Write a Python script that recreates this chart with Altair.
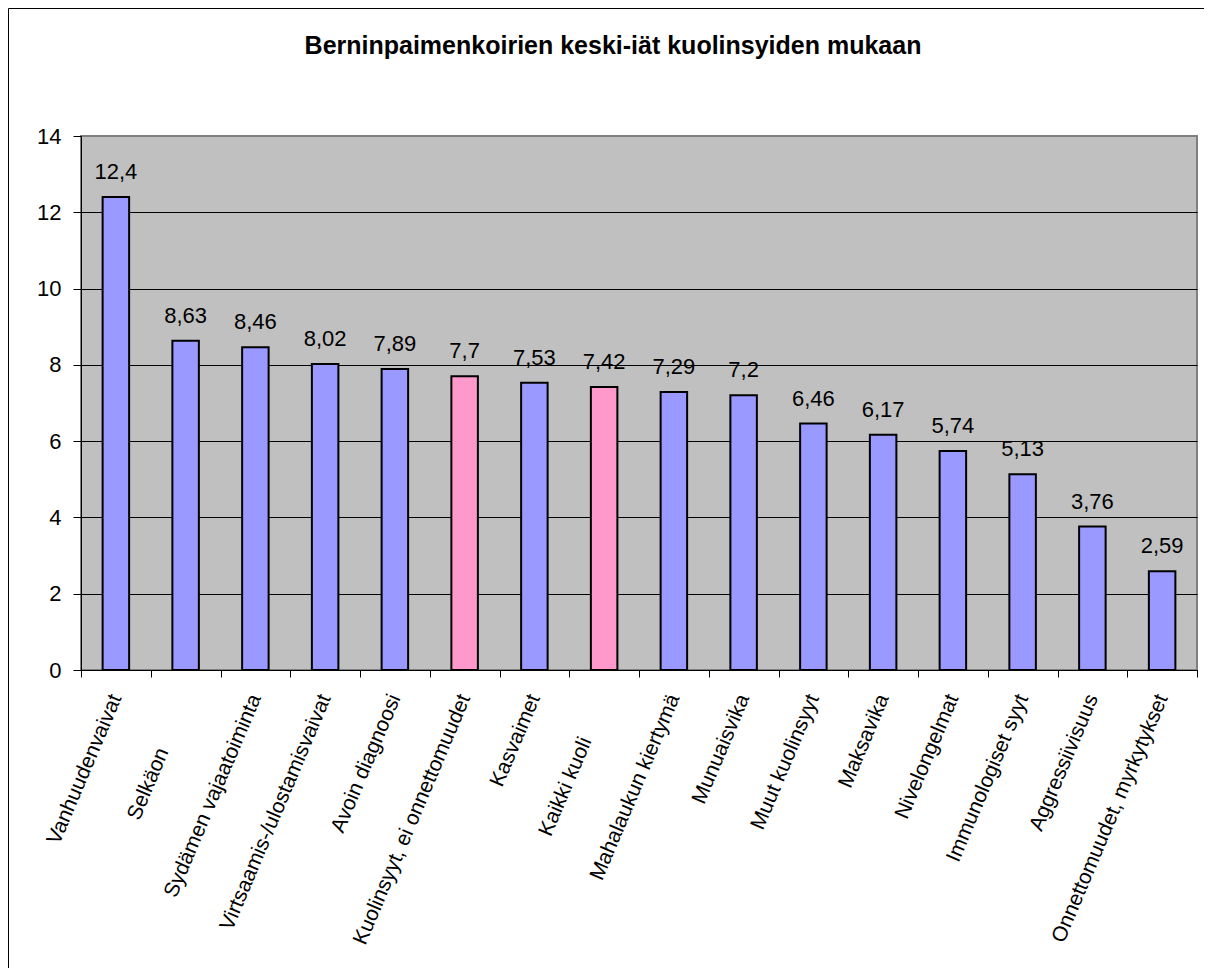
import altair as alt
import pandas as pd

NB = "\u00a0"
ZW = "\u200b"

# Categories as shown (two labels are cut off in the original picture)
categories = [
    "Vanhuudenvaivat",
    "Selkäon" + NB * 10 + ZW,
    "Sydämen vajaatoiminta",
    "Virtsaamis-/ulostamisvaivat",
    "Avoin diagnoosi",
    "Kuolinsyyt, ei onnettomuudet",
    "Kasvaimet",
    "Kaikki kuoli" + NB * 8 + ZW,
    "Mahalaukun kiertymä",
    "Munuaisvika",
    "Muut kuolinsyyt",
    "Maksavika",
    "Nivelongelmat",
    "Immunologiset syyt",
    "Aggressiivisuus",
    "Onnettomuudet, myrkytykset",
]
values = [12.4, 8.63, 8.46, 8.02, 7.89, 7.7, 7.53, 7.42, 7.29, 7.2,
          6.46, 6.17, 5.74, 5.13, 3.76, 2.59]
groups = ["syy", "syy", "syy", "syy", "syy", "yhteensä", "syy", "yhteensä",
          "syy", "syy", "syy", "syy", "syy", "syy", "syy", "syy"]
y_ticks = [0, 2, 4, 6, 8, 10, 12, 14]

df = pd.DataFrame({
    "kuolinsyy": categories,
    "ika": values,
    "ryhma": groups,
    "teksti": [str(v).replace(".", ",") for v in values],
})

x_enc = alt.X(
    "kuolinsyy:N",
    sort=categories,
    scale=alt.Scale(paddingInner=0, paddingOuter=0),
    axis=alt.Axis(
        title=None,
        labelAngle=-67,
        labelAlign="right",
        labelBaseline="middle",
        labelFontSize=21,
        labelColor="black",
        labelPadding=18,
        labelLimit=500,
        tickBand="extent",
        tickSize=7,
        tickColor="black",
        domainColor="black",
        domainWidth=1,
        grid=False,
    ),
)
y_enc = alt.Y(
    "ika:Q",
    scale=alt.Scale(domain=[0, 14], nice=False),
    axis=alt.Axis(
        title=None,
        values=y_ticks,
        labelFontSize=22,
        labelColor="black",
        labelPadding=12,
        tickSize=8,
        tickColor="black",
        domainColor="black",
        grid=True,
        gridColor={"condition": {"test": "datum.value === 14", "value": "#808080"},
                   "value": "#000000"},
        gridWidth=1,
        gridOpacity=1,
    ),
)

base = alt.Chart(df)

bars = base.mark_bar(
    width=alt.RelativeBandSize(0.38), stroke="black", strokeWidth=2
).encode(
    x=x_enc,
    y=y_enc,
    color=alt.Color(
        "ryhma:N",
        scale=alt.Scale(domain=["syy", "yhteensä"], range=["#9999FF", "#FF99CC"]),
        legend=None,
    ),
)

labels = base.mark_text(
    baseline="alphabetic", align="center", dy=-18, fontSize=22, color="black"
).encode(
    x=alt.X("kuolinsyy:N", sort=categories),
    y="ika:Q",
    text="teksti:N",
)

frame_df = pd.DataFrame({"k": [0]})
left_line = alt.Chart(frame_df).mark_rule(color="black", strokeWidth=1).encode(
    x=alt.value(-72.5), y=alt.value(-127.5), y2=alt.value(840)
)
top_line = alt.Chart(frame_df).mark_rule(color="black", strokeWidth=1).encode(
    x=alt.value(-72.5), x2=alt.value(1130), y=alt.value(-127.5)
)

chart = alt.layer(bars, labels, left_line, top_line).properties(
    width=1116,
    height=534,
    padding={"left": 73, "top": 128, "right": 7, "bottom": 298},
    autosize=alt.AutoSizeParams(type="none"),
    title=alt.TitleParams(
        "Berninpaimenkoirien keski-iät kuolinsyiden mukaan",
        fontSize=25,
        fontWeight="bold",
        font="Liberation Sans",
        color="black",
        anchor="middle",
        baseline="alphabetic",
        dx=-26,
        offset=-71,
    ),
).configure(
    font="Liberation Sans",
    background="white",
).configure_view(
    fill="#C0C0C0",
    stroke="#808080",
    strokeWidth=2,
)

chart.save("out.html", embed_options={"renderer": "svg", "actions": False})
